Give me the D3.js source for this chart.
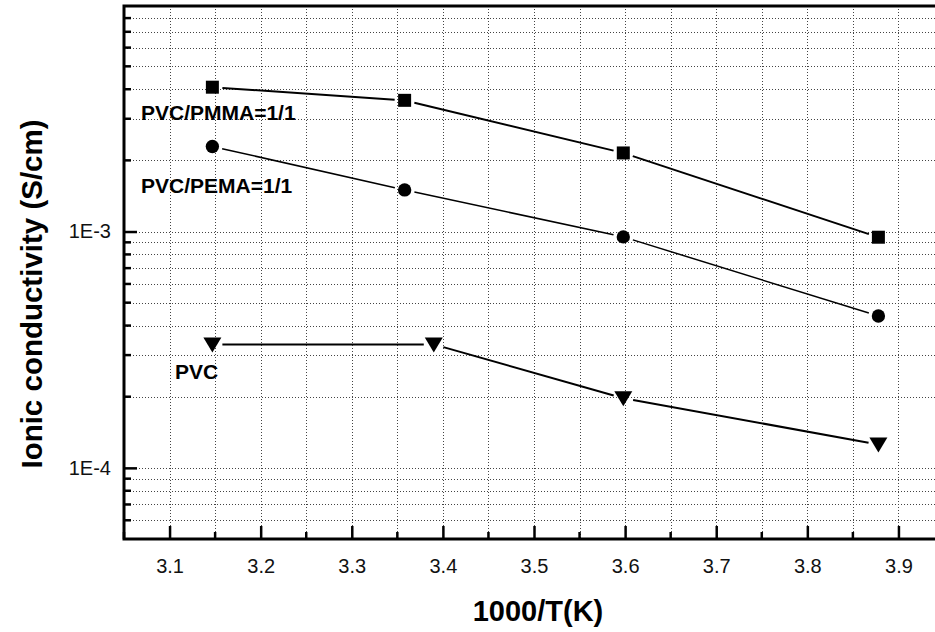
<!DOCTYPE html>
<html>
<head>
<meta charset="utf-8">
<script src="https://cdn.jsdelivr.net/npm/d3@7"></script>
<style>
  body { margin: 0; background: #fff; }
  svg { display: block; font-family: Arial, "Liberation Sans", sans-serif; }
</style>
</head>
<body>
<div id="chart"></div>
<script>
// x = 1000/T(K), y = ionic conductivity (S/cm)
const pmmaX = [3.147, 3.358, 3.598, 3.878];
const pmmaY = [4.08e-3, 3.59e-3, 2.15e-3, 9.46e-4];
const pemaX = [3.147, 3.358, 3.598, 3.878];
const pemaY = [2.29e-3, 1.50e-3, 9.49e-4, 4.39e-4];
const pvcX = [3.147, 3.390, 3.598, 3.878];
const pvcY = [3.33e-4, 3.33e-4, 1.97e-4, 1.256e-4];
const xTicks = [3.1, 3.2, 3.3, 3.4, 3.5, 3.6, 3.7, 3.8, 3.9];
const yTickLabels = ["1E-4", "1E-3"];

const width = 935, height = 632;
const margin = {top: 6, right: -9, bottom: 93, left: 124};

const svg = d3.select("#chart").append("svg")
  .attr("width", width)
  .attr("height", height);

const x = d3.scaleLinear().domain([3.05, 3.95]).range([margin.left, width - margin.right]);
const y = d3.scaleLog().domain([5e-5, 9e-3]).range([height - margin.bottom, margin.top]);

// minor positions
const xMinor = d3.range(3.05, 3.951, 0.05).map(d => +d.toFixed(2));
const yMinor = [];
[1e-5, 1e-4, 1e-3].forEach(dec => {
  for (let k = 1; k <= 9; k++) {
    const v = +(k * dec).toPrecision(2);
    if (v > 5e-5 && v < 9e-3) yMinor.push(v);
  }
});

// grid
const grid = svg.append("g").attr("class", "grid")
  .attr("stroke", "#444").attr("stroke-width", 1).attr("stroke-dasharray", "1,2");
grid.selectAll("line.v")
  .data(xMinor.filter(d => d > 3.06 && d < 3.94))
  .join("line").attr("class", "v")
  .attr("x1", d => Math.round(x(d)) + 0.5).attr("x2", d => Math.round(x(d)) + 0.5)
  .attr("y1", y.range()[1]).attr("y2", y.range()[0]);
grid.selectAll("line.h")
  .data(yMinor)
  .join("line").attr("class", "h")
  .attr("y1", d => Math.round(y(d)) + 0.5).attr("y2", d => Math.round(y(d)) + 0.5)
  .attr("x1", x.range()[0]).attr("x2", x.range()[1]);

// x axis (ticks inward)
const xAxis = svg.append("g")
  .attr("transform", `translate(0,${y.range()[0]})`)
  .call(d3.axisBottom(x).tickValues(xTicks).tickSize(-13).tickPadding(20)
    .tickFormat(d3.format(".1f")));
xAxis.select(".domain").remove();
xAxis.selectAll(".tick line").attr("stroke-width", 2.5);
xAxis.selectAll(".tick text").attr("font-size", 20).attr("fill", "#111")
  .attr("font-family", "Arial, 'Liberation Sans', sans-serif");
svg.append("g").selectAll("line")
  .data(xMinor.filter(d => !xTicks.some(t => Math.abs(t - d) < 1e-6)))
  .join("line")
  .attr("x1", d => x(d)).attr("x2", d => x(d))
  .attr("y1", y.range()[0]).attr("y2", y.range()[0] - 7)
  .attr("stroke", "#000").attr("stroke-width", 2.5);

// y axis (ticks inward)
const yAxis = svg.append("g")
  .attr("transform", `translate(${x.range()[0]},0)`)
  .call(d3.axisLeft(y).tickValues([1e-4, 1e-3]).tickSize(-13).tickPadding(13)
    .tickFormat((d, i) => yTickLabels[i]));
yAxis.select(".domain").remove();
yAxis.selectAll(".tick line").attr("stroke-width", 2.5);
yAxis.selectAll(".tick text").attr("font-size", 20).attr("fill", "#111")
  .attr("font-family", "Arial, 'Liberation Sans', sans-serif");
svg.append("g").selectAll("line")
  .data(yMinor.filter(d => d !== 1e-4 && d !== 1e-3))
  .join("line")
  .attr("y1", d => y(d)).attr("y2", d => y(d))
  .attr("x1", x.range()[0]).attr("x2", x.range()[0] + 7)
  .attr("stroke", "#000").attr("stroke-width", 2.5);

// frame
svg.append("rect")
  .attr("x", x.range()[0]).attr("y", y.range()[1])
  .attr("width", x.range()[1] - x.range()[0])
  .attr("height", y.range()[0] - y.range()[1])
  .attr("fill", "none").attr("stroke", "#000").attr("stroke-width", 3);

// series: segments with small gaps near markers
function drawSeries(xs, ys, shape, lw) {
  const pts = xs.map((d, i) => [x(d), y(ys[i])]);
  const gap = 10;
  const g = svg.append("g");
  for (let i = 0; i < pts.length - 1; i++) {
    const [x0, y0] = pts[i], [x1, y1] = pts[i + 1];
    const len = Math.hypot(x1 - x0, y1 - y0);
    const ux = (x1 - x0) / len, uy = (y1 - y0) / len;
    g.append("line")
      .attr("x1", x0 + ux * gap).attr("y1", y0 + uy * gap)
      .attr("x2", x1 - ux * gap).attr("y2", y1 - uy * gap)
      .attr("stroke", "#000").attr("stroke-width", lw);
  }
  g.selectAll("path.m").data(pts).join("path").attr("class", "m")
    .attr("transform", d => `translate(${d[0]},${d[1]})`)
    .attr("fill", "#000")
    .attr("d", () => {
      if (shape === "square") return "M-6.5,-6.5H6.5V6.5H-6.5Z";
      if (shape === "circle") return d3.symbol(d3.symbolCircle, 140)();
      return "M-9,-7H9L0,8Z";
    });
}
drawSeries(pmmaX, pmmaY, "square", 2);
drawSeries(pemaX, pemaY, "circle", 1.5);
drawSeries(pvcX, pvcY, "triangle", 2);

// series labels
const labels = svg.append("g").attr("font-weight", "bold").attr("font-size", 21).attr("fill", "#000");
labels.append("text").attr("x", 141).attr("y", 120).text("PVC/PMMA=1/1");
labels.append("text").attr("x", 141).attr("y", 193).text("PVC/PEMA=1/1");
labels.append("text").attr("x", 175).attr("y", 379).text("PVC");

// axis titles
svg.append("text")
  .attr("x", 538).attr("y", 621)
  .attr("text-anchor", "middle")
  .attr("font-weight", "bold").attr("font-size", 29)
  .text("1000/T(K)");
svg.append("text")
  .attr("transform", "translate(42,294) rotate(-90)")
  .attr("text-anchor", "middle")
  .attr("font-weight", "bold").attr("font-size", 29.5)
  .text("Ionic conductivity (S/cm)");
</script>
</body>
</html>
